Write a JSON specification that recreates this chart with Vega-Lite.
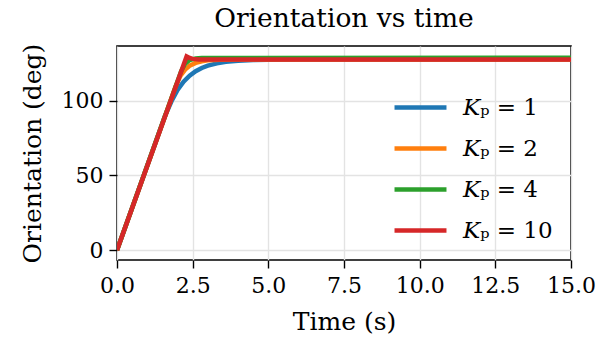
{
  "$schema": "https://vega.github.io/schema/vega-lite/v6.json",
  "width": 454,
  "height": 214,
  "autosize": {"type": "none"},
  "padding": {"left": 117, "top": 46, "right": 33, "bottom": 78},
  "background": "white",
  "config": {
    "font": "DejaVu Serif",
    "view": {"stroke": "black", "strokeWidth": 1.6},
    "axis": {
      "domain": false,
      "grid": true,
      "gridColor": "#e3e3e3",
      "gridWidth": 1.4,
      "ticks": true,
      "tickColor": "black",
      "tickWidth": 1.4,
      "tickSize": 8,
      "labelFont": "DejaVu Serif",
      "labelFontSize": 22,
      "labelColor": "black",
      "labelPadding": 6,
      "labelFlush": false,
      "labelBound": false,
      "labelOverlap": false,
      "titleFont": "DejaVu Serif",
      "titleFontSize": 25,
      "titleFontWeight": "normal",
      "titleColor": "black"
    },
    "title": {"font": "DejaVu Serif", "fontSize": 26.5, "fontWeight": "normal", "color": "black"}
  },
  "title": {"text": "Orientation vs time", "offset": 11},
  "data": {
    "values": [
      {"kp": 1, "t": 0, "deg": 0},
      {"kp": 1, "t": 1.58, "deg": 89.5},
      {"kp": 1, "t": 1.8, "deg": 99.6},
      {"kp": 1, "t": 2.0, "deg": 107.2},
      {"kp": 1, "t": 2.2, "deg": 112.7},
      {"kp": 1, "t": 2.4, "deg": 116.7},
      {"kp": 1, "t": 2.6, "deg": 119.7},
      {"kp": 1, "t": 2.8, "deg": 121.8},
      {"kp": 1, "t": 3.0, "deg": 123.4},
      {"kp": 1, "t": 3.3, "deg": 124.9},
      {"kp": 1, "t": 3.6, "deg": 125.9},
      {"kp": 1, "t": 4.0, "deg": 126.6},
      {"kp": 1, "t": 4.5, "deg": 127.1},
      {"kp": 1, "t": 5.0, "deg": 127.3},
      {"kp": 1, "t": 6.0, "deg": 127.45},
      {"kp": 1, "t": 15.0, "deg": 127.5},
      {"kp": 2, "t": 0, "deg": 0},
      {"kp": 2, "t": 1.938, "deg": 109.5},
      {"kp": 2, "t": 2.1, "deg": 116.7},
      {"kp": 2, "t": 2.25, "deg": 120.7},
      {"kp": 2, "t": 2.4, "deg": 123.3},
      {"kp": 2, "t": 2.6, "deg": 125.2},
      {"kp": 2, "t": 2.8, "deg": 126.3},
      {"kp": 2, "t": 3.0, "deg": 126.9},
      {"kp": 2, "t": 3.4, "deg": 127.3},
      {"kp": 2, "t": 4.0, "deg": 127.45},
      {"kp": 2, "t": 15.0, "deg": 127.5},
      {"kp": 4, "t": 0, "deg": 0},
      {"kp": 4, "t": 2.117, "deg": 119.6},
      {"kp": 4, "t": 2.25, "deg": 124.7},
      {"kp": 4, "t": 2.4, "deg": 127.1},
      {"kp": 4, "t": 2.6, "deg": 128.2},
      {"kp": 4, "t": 2.8, "deg": 128.5},
      {"kp": 4, "t": 15.0, "deg": 128.6},
      {"kp": 10, "t": 0, "deg": 0},
      {"kp": 10, "t": 2.3, "deg": 129.5},
      {"kp": 10, "t": 2.4, "deg": 128.5},
      {"kp": 10, "t": 2.5, "deg": 127.9},
      {"kp": 10, "t": 2.7, "deg": 127.5},
      {"kp": 10, "t": 15.0, "deg": 127.5}
    ]
  },
  "mark": {"type": "line", "strokeWidth": 4.5, "strokeJoin": "miter", "strokeCap": "butt", "clip": true},
  "encoding": {
    "x": {
      "field": "t",
      "type": "quantitative",
      "title": "Time (s)",
      "scale": {"domain": [0, 15], "nice": false, "zero": false},
      "axis": {"values": [0, 2.5, 5, 7.5, 10, 12.5, 15], "format": ".1f", "labelPadding": 7, "titlePadding": 13}
    },
    "y": {
      "field": "deg",
      "type": "quantitative",
      "title": "Orientation (deg)",
      "scale": {"domain": [-6.5, 136.5], "nice": false, "zero": false},
      "axis": {"values": [0, 50, 100], "titlePadding": 16}
    },
    "color": {
      "field": "kp",
      "type": "nominal",
      "scale": {"domain": [1, 2, 4, 10], "range": ["#1f77b4", "#ff7f0e", "#2ca02c", "#d62728"]},
      "legend": {
        "title": null,
        "orient": "none",
        "legendX": 275,
        "legendY": 33,
        "symbolType": "stroke",
        "symbolSize": 2700,
        "symbolStrokeWidth": 4.5,
        "labelFont": "DejaVu Serif",
        "labelFontSize": 23,
        "labelColor": "black",
        "labelOffset": 14,
        "rowPadding": -3,
        "labelExpr": "'𝐾ₚ = ' + datum.label"
      }
    },
    "order": {"field": "t", "type": "quantitative"}
  }
}
